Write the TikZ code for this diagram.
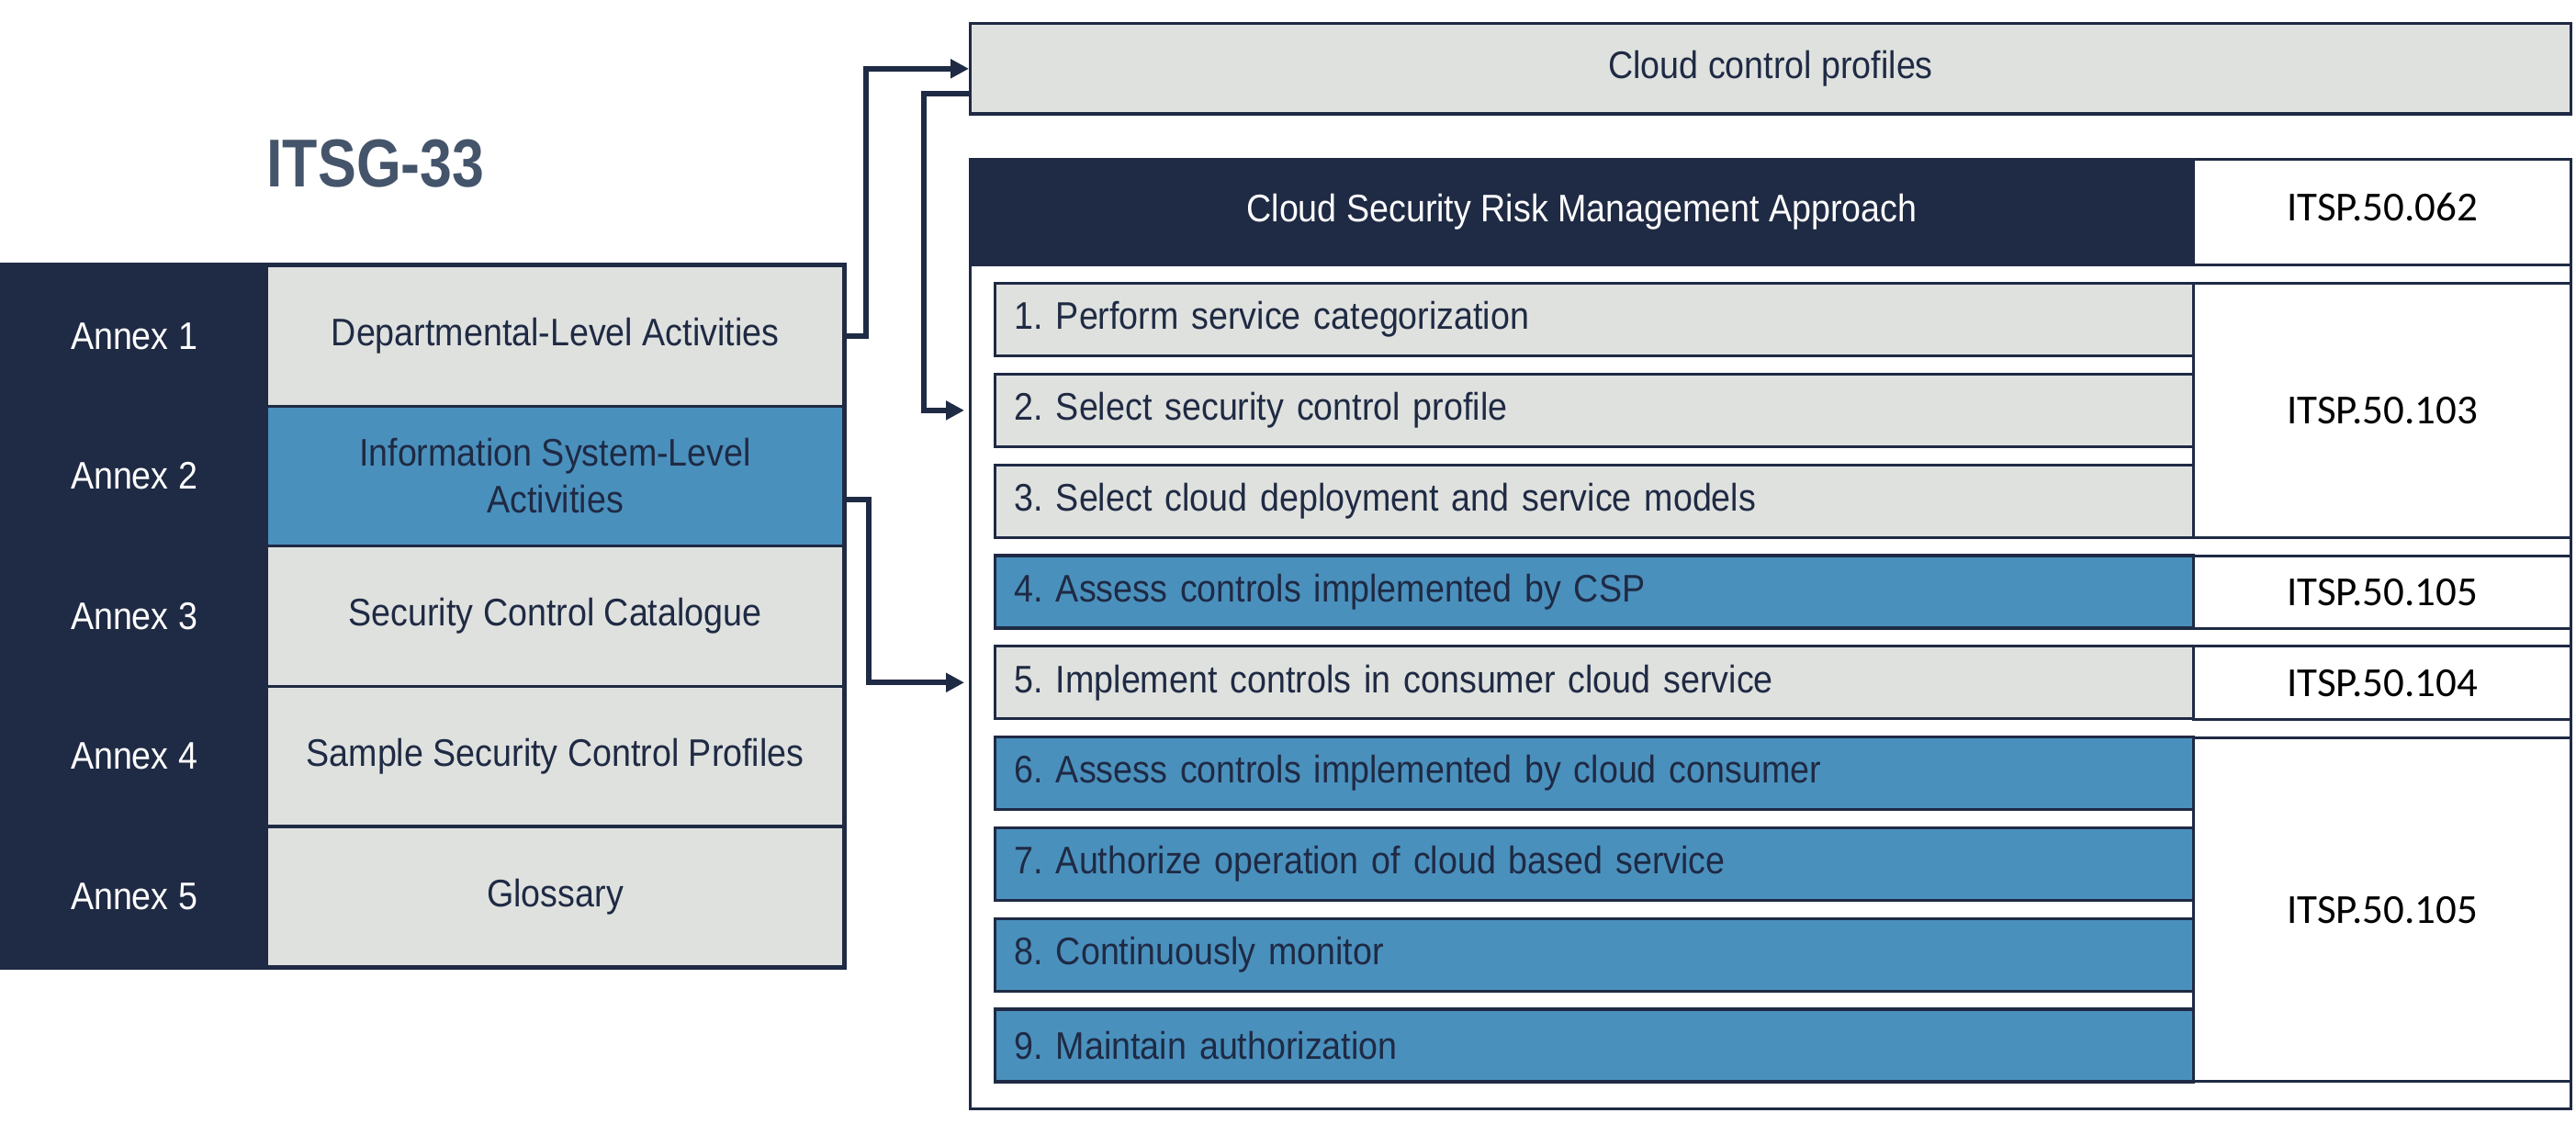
\documentclass[tikz,border=0pt]{standalone}
\usepackage{fontspec}
\setmainfont{Liberation Sans}[FakeStretch=0.9]
\newfontfamily\titlefont{Liberation Sans}[FakeStretch=0.85]
\newfontfamily\itspfont{Carlito}
\usetikzlibrary{arrows.meta}
\definecolor{navy}{HTML}{1F2A44}
\definecolor{cellgray}{HTML}{DFE1DE}
\definecolor{cellblue}{HTML}{4A90BD}
\definecolor{titleslate}{HTML}{44546A}
\newcommand{\cellfont}{\fontsize{11.9}{14.5}\selectfont}
\frenchspacing
\tikzset{
  cell/.style={draw=navy, line width=0.9pt, anchor=north west, inner sep=0pt, align=center, text=navy, font=\cellfont},
  annexbox/.style={cell, fill=navy, text=white, minimum width=2.89cm, minimum height=1.526cm},
  actbox/.style={cell, minimum width=6.28cm, minimum height=1.526cm},
  stepbox/.style={cell, minimum height=0.79cm, text width=12.63cm, inner xsep=0.21cm, align=left},
  itspbox/.style={cell, fill=white, text=black, minimum width=4.11cm, font=\itspfont\fontsize{12.8}{15}\selectfont},
  flow/.style={navy, line width=1.7pt, -{Triangle[length=2mm,width=2mm]}},
}
\begin{document}
\begin{tikzpicture}
    \useasboundingbox (0,0) rectangle (28.05,-12.24);
    \node [text=titleslate, font=\titlefont\bfseries\fontsize{21}{25}\selectfont] (title) at (4.09,-1.78) {ITSG-33};
    \foreach \i/\txt/\clr in {1/{Departmental-Level Activities}/cellgray,
        2/{Information System-Level\\Activities}/cellblue,
        3/{Security Control Catalogue}/cellgray,
        4/{Sample Security Control Profiles}/cellgray,
        5/{Glossary}/cellgray} {
      \node [annexbox] (annex\i) at (0, {-2.88-1.526*(\i-1)}) {Annex \i};
      \node [actbox, fill=\clr] (act\i) at (2.89, {-2.88-1.526*(\i-1)}) {\txt};
    }
    \draw [navy, line width=0.9pt] (annex1.north west) rectangle (act5.south east);
    \node [cell, fill=cellgray, minimum width=17.43cm, minimum height=0.985cm] (profiles) at (10.55,-0.24) {Cloud control profiles};
    \node [cell, minimum width=17.43cm, minimum height=10.34cm] (approach) at (10.55,-1.72) {};
    \node [cell, fill=navy, text=white, minimum width=13.32cm, minimum height=1.15cm] (header) at (10.55,-1.72) {Cloud Security Risk Management Approach};
    \node [itspbox, minimum height=1.15cm, text depth=0.12cm] (itsp062) at (23.87,-1.72) {ITSP.50.062};
    \foreach \i/\txt/\clr in {1/{1. Perform service categorization}/cellgray,
        2/{2. Select security control profile}/cellgray,
        3/{3. Select cloud deployment and service models}/cellgray,
        4/{4. Assess controls implemented by CSP}/cellblue,
        5/{5. Implement controls in consumer cloud service}/cellgray,
        6/{6. Assess controls implemented by cloud consumer}/cellblue,
        7/{7. Authorize operation of cloud based service}/cellblue,
        8/{8. Continuously monitor}/cellblue,
        9/{9. Maintain authorization}/cellblue} {
      \node [stepbox, fill=\clr] (step\i) at (10.82, {-3.07-0.988*(\i-1)}) {\txt};
    }
    \node [itspbox, minimum height=2.77cm] (itsp103) at (23.87,-3.07) {ITSP.50.103};
    \node [itspbox, minimum height=0.79cm] (itsp105a) at (23.87,-6.04) {ITSP.50.105};
    \node [itspbox, minimum height=0.80cm] (itsp104) at (23.87,-7.02) {ITSP.50.104};
    \node [itspbox, minimum height=3.74cm] (itsp105b) at (23.87,-8.02) {ITSP.50.105};
    \draw [flow] (act1.east) -- ++(0.23,0) |- (profiles.west);
    \draw [flow, shorten >=0.05cm] ([yshift=-0.27cm]profiles.west) -- ++(-0.49,0) |- (approach.west |- step2.west);
    \draw [flow, shorten >=0.05cm] ([yshift=-0.26cm]act2.east) -- ++(0.26,0) |- (approach.west |- step5.west);
  \end{tikzpicture}
\end{document}
